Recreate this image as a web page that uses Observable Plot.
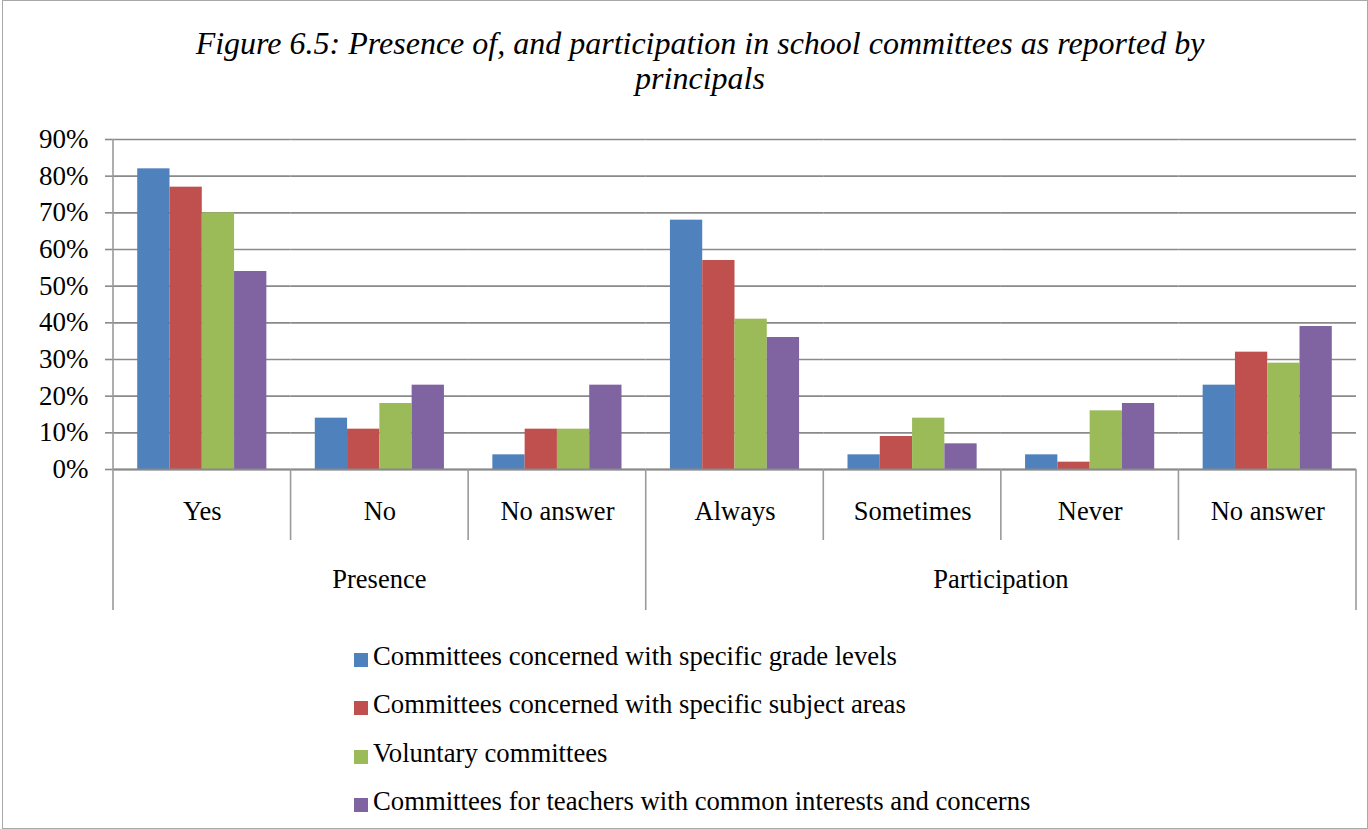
<!DOCTYPE html>
<html>
<head>
<meta charset="utf-8">
<script src="https://cdn.jsdelivr.net/npm/d3@7"></script>
<script src="https://cdn.jsdelivr.net/npm/@observablehq/plot@0.6"></script>
<style>
  html, body { margin: 0; padding: 0; background: #fff; }
  #wrap { position: relative; width: 1368px; height: 829px; overflow: hidden; font-family: "Liberation Serif", "Times New Roman", serif; color: #000; }
  #border { position: absolute; left: 2px; top: 0; width: 1366px; height: 829px; box-sizing: border-box; border: 1px solid #a8a8a8; pointer-events: none; }
  #title { position: absolute; left: 32px; top: 26px; width: 1336px; text-align: center; font-style: italic; font-size: 32px; line-height: 35px; }
  #chart { position: absolute; left: 0; top: 110px; }
  #legend { position: absolute; left: 354px; top: 632px; font-size: 26.7px; line-height: 48.3px; }
  .row { white-space: nowrap; }
  .sw { display: inline-block; width: 14px; height: 14px; margin-right: 5px; vertical-align: -2px; }
</style>
</head>
<body>
<div id="wrap">
  <div id="title">Figure 6.5: Presence of, and participation in school committees as reported by<br>principals</div>
  <div id="chart"></div>
  <div id="legend"></div>
  <div id="border"></div>
</div>
<script>
// ---- data ----
const groups = ["Presence", "Presence", "Presence", "Participation", "Participation", "Participation", "Participation"];
const categories = ["Yes", "No", "No answer", "Always", "Sometimes", "Never", "No answer"];
const seriesNames = [
  "Committees concerned with specific grade levels",
  "Committees concerned with specific subject areas",
  "Voluntary committees",
  "Committees for teachers with common interests and concerns"
];
const gradeLevels     = [82, 14, 4, 68, 4, 4, 23];
const subjectAreas    = [77, 11, 11, 57, 9, 2, 32];
const voluntary       = [70, 18, 11, 41, 14, 16, 29];
const commonInterests = [54, 23, 23, 36, 7, 18, 39];
const yTicks = [0, 10, 20, 30, 40, 50, 60, 70, 80, 90];
const colors = ["#4F81BD", "#C0504D", "#9BBB59", "#8064A2"];

// ---- build table ----
const seriesValues = [gradeLevels, subjectAreas, voluntary, commonInterests];
const keys = categories.map((c, i) => groups[i] + "|" + c);
const rows = [];
keys.forEach((k, i) => {
  seriesNames.forEach((s, j) => rows.push({key: k, series: s, value: seriesValues[j][i]}));
});
const catRows = keys.map((k, i) => ({key: k, label: categories[i]}));

const gridColor = "#8a8a8a";
const W = 1368, H = 504;

const plot = Plot.plot({
  width: W,
  height: H,
  marginLeft: 113,
  marginRight: 12,
  marginTop: 29,
  marginBottom: 145,
  style: {fontFamily: "'Liberation Serif', 'Times New Roman', serif", fontSize: "26.5px", color: "#000", background: "transparent"},
  fx: {domain: keys, padding: 0, round: false, axis: null},
  x: {domain: seriesNames, paddingInner: 0, paddingOuter: 0.75, round: false, axis: null},
  y: {domain: [0, 90], axis: null},
  color: {domain: seriesNames, range: colors},
  marks: [
    Plot.gridY(yTicks, {stroke: gridColor, strokeOpacity: 1, strokeWidth: 1.6}),
    Plot.axisY(yTicks, {tickSize: 8, tickPadding: 17, tickFormat: d => d + "%", stroke: gridColor, strokeWidth: 1.6, fontSize: 27, label: null, fill: "#000"}),
    Plot.barY(rows, {fx: "key", x: "series", y: "value", fill: "series"}),
    Plot.ruleY([0], {stroke: gridColor, strokeWidth: 1.8}),
    Plot.text(catRows, {fx: "key", text: "label", frameAnchor: "bottom", dy: 42, lineAnchor: "middle", fontSize: 26.5, fill: "#000"})
  ]
});

document.getElementById("chart").appendChild(plot);

// ---- dividers and group labels from the plot's own scales ----
const fxs = plot.scale("fx");
const ys = plot.scale("y");
const band = d3.scaleBand().domain(fxs.domain).range(fxs.range)
  .paddingInner(fxs.paddingInner ?? 0).paddingOuter(fxs.paddingOuter ?? 0).align(fxs.align ?? 0.5);
const yl = d3.scaleLinear().domain(ys.domain).range(ys.range);
const y0 = yl(0), yTop = yl(90);
const g = d3.select(plot).append("g").attr("stroke", "#9a9a9a").attr("stroke-width", 1.6);
const edges = keys.map(k => band(k)).concat([band(keys[keys.length - 1]) + band.bandwidth()]);
edges.forEach((x, i) => {
  const isGroup = i === 0 || i === keys.length || groups[i] !== groups[i - 1];
  g.append("line").attr("x1", x).attr("x2", x)
    .attr("y1", i === 0 ? yTop : y0)
    .attr("y2", isGroup ? y0 + 141 : y0 + 71);
});
const uniqueGroups = [...new Set(groups)];
uniqueGroups.forEach(gr => {
  const ks = keys.filter((k, i) => groups[i] === gr);
  const x1 = band(ks[0]), x2 = band(ks[ks.length - 1]) + band.bandwidth();
  d3.select(plot).append("text")
    .attr("x", (x1 + x2) / 2).attr("y", y0 + 111).attr("dy", "0.32em")
    .attr("text-anchor", "middle").attr("font-size", 26.5).attr("fill", "#000")
    .text(gr);
});

// ---- legend ----
const legend = d3.select("#legend");
seriesNames.forEach((s, i) => {
  const r = legend.append("div").attr("class", "row");
  r.append("span").attr("class", "sw").style("background", colors[i]);
  r.append("span").text(s);
});
</script>
</body>
</html>
